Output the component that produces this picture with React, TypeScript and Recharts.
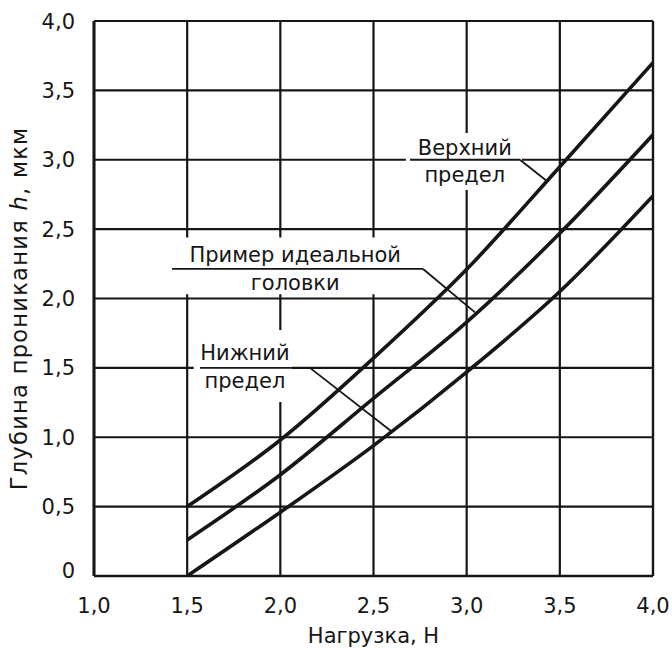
import React from 'react';
import {
  LineChart,
  Line,
  XAxis,
  YAxis,
  CartesianGrid,
  ReferenceArea,
  ReferenceLine,
  ReferenceDot,
} from 'recharts';

const FONT = '"DejaVu Sans", "Liberation Sans", sans-serif';
const INK = '#161616';

// Load, N
const loads = [1.5, 2.0, 2.5, 3.0, 3.5, 4.0];
// Penetration depth h, µm
const upperLimit = [0.5, 0.98, 1.57, 2.21, 2.95, 3.7];
const idealHead = [0.26, 0.73, 1.28, 1.83, 2.47, 3.18];
const lowerLimit = [0, 0.46, 0.94, 1.47, 2.05, 2.74];

const xTicks = [1.0, 1.5, 2.0, 2.5, 3.0, 3.5, 4.0];
const yTicks = [0, 0.5, 1.0, 1.5, 2.0, 2.5, 3.0, 3.5, 4.0];

const xTitle = 'Нагрузка, Н';
const yTitleA = 'Глубина проникания ';
const yTitleH = 'h';
const yTitleB = ', мкм';

// callout annotations (data coordinates)
const calloutTexts = [
  { x: 2.99, y: 3.036, text: 'Верхний' },
  { x: 2.99, y: 2.841, text: 'предел' },
  { x: 2.08, y: 2.263, text: 'Пример идеальной' },
  { x: 2.08, y: 2.061, text: 'головки' },
  { x: 1.81, y: 1.557, text: 'Нижний' },
  { x: 1.81, y: 1.355, text: 'предел' },
];
const calloutBoxes = [
  { x1: 2.674, x2: 3.297, y1: 2.782, y2: 3.193 },
  { x1: 1.435, x2: 2.78, y1: 2.03, y2: 2.44 },
  { x1: 1.535, x2: 2.063, y1: 1.254, y2: 1.773 },
];
const calloutLines = [
  [{ x: 2.696, y: 3.0 }, { x: 3.286, y: 3.0 }],
  [{ x: 3.286, y: 3.0 }, { x: 3.437, y: 2.84 }],
  [{ x: 1.419, y: 2.213 }, { x: 2.766, y: 2.213 }],
  [{ x: 2.766, y: 2.213 }, { x: 3.045, y: 1.9 }],
  [{ x: 1.569, y: 1.5 }, { x: 2.159, y: 1.5 }],
  [{ x: 2.159, y: 1.5 }, { x: 2.599, y: 1.04 }],
];

const data = loads.map((x, i) => ({
  x,
  upper: upperLimit[i],
  ideal: idealHead[i],
  lower: lowerLimit[i],
}));

const fmt = (v: number) => (v === 0 ? '0' : v.toFixed(1).replace('.', ','));

const XTick = (props: any) => {
  const { x, y, payload } = props;
  return (
    <text x={x} y={y + 31} textAnchor="middle" fontSize={21} fontFamily={FONT} fill={INK}>
      {fmt(payload.value)}
    </text>
  );
};

const YTick = (props: any) => {
  const { x, y, payload } = props;
  const dy = payload.value === 0 ? 1.5 : 7.5;
  return (
    <text x={x - 13} y={y + dy} textAnchor="end" fontSize={21} fontFamily={FONT} fill={INK}>
      {fmt(payload.value)}
    </text>
  );
};

const makeTextLabel = (text: string) => (p: any) => {
  const vb = p.viewBox || {};
  const cx = (vb.x ?? 0) + (vb.width ?? 0) / 2;
  const cy = (vb.y ?? 0) + (vb.height ?? 0) / 2;
  return (
    <text x={cx} y={cy} textAnchor="middle" fontSize={21} fontFamily={FONT} fill={INK}>
      {text}
    </text>
  );
};

const yTitleContent = (p: any) => {
  const vb = p.viewBox || { x: 0, y: 0, width: 0, height: 0 };
  const cx = vb.x + 27;
  const cy = vb.y + vb.height / 2 + 10;
  return (
    <text
      x={cx}
      y={cy}
      transform={`rotate(-90 ${cx} ${cy})`}
      textAnchor="middle"
      fontSize={22.5}
      letterSpacing={1.3}
      fontFamily={FONT}
      fill={INK}
    >
      <tspan>{yTitleA}</tspan>
      <tspan fontStyle="italic">{yTitleH}</tspan>
      <tspan>{yTitleB}</tspan>
    </text>
  );
};

export default function App() {
  return (
    <div style={{ width: 672, height: 648, background: '#fff' }}>
      <style>{'html,body{margin:0;padding:0;overflow:hidden;background:#fff;}'}</style>
      <LineChart
        width={672}
        height={648}
        data={data}
        margin={{ top: 21, right: 19, left: 0, bottom: 0 }}
      >
        <CartesianGrid stroke={INK} strokeWidth={2.2} />
        <XAxis
          type="number"
          dataKey="x"
          domain={[1, 4]}
          ticks={xTicks}
          allowDataOverflow
          height={72}
          tickLine={false}
          tickMargin={0}
          tick={<XTick />}
          axisLine={{ stroke: INK, strokeWidth: 2.6 }}
          label={{
            value: xTitle,
            position: 'insideBottom',
            offset: 5,
            fontSize: 21,
            fontFamily: FONT,
            fill: INK,
          }}
        />
        <YAxis
          type="number"
          domain={[0, 4]}
          ticks={yTicks}
          allowDataOverflow
          width={94}
          tickLine={false}
          tickMargin={0}
          tick={<YTick />}
          axisLine={{ stroke: INK, strokeWidth: 3 }}
          label={{ content: yTitleContent }}
        />
        <ReferenceLine y={4} stroke={INK} strokeWidth={2.2} />
        <ReferenceLine x={4} stroke={INK} strokeWidth={2.2} />
        {calloutBoxes.map((b, i) => (
          <ReferenceArea
            key={`box-${i}`}
            x1={b.x1}
            x2={b.x2}
            y1={b.y1}
            y2={b.y2}
            fill="#ffffff"
            fillOpacity={1}
            stroke="none"
            ifOverflow="visible"
          />
        ))}
        {calloutLines.map((seg, i) => (
          <ReferenceLine
            key={`seg-${i}`}
            segment={seg}
            stroke={INK}
            strokeWidth={1.8}
            ifOverflow="visible"
          />
        ))}
        {calloutTexts.map((t, i) => (
          <ReferenceDot
            key={`txt-${i}`}
            x={t.x}
            y={t.y}
            r={1}
            fill="none"
            stroke="none"
            ifOverflow="visible"
            label={makeTextLabel(t.text)}
          />
        ))}
        <Line type="monotone" dataKey="upper" stroke={INK} strokeWidth={3.6} dot={false} isAnimationActive={false} />
        <Line type="monotone" dataKey="ideal" stroke={INK} strokeWidth={3.6} dot={false} isAnimationActive={false} />
        <Line type="monotone" dataKey="lower" stroke={INK} strokeWidth={3.6} dot={false} isAnimationActive={false} />
      </LineChart>
    </div>
  );
}
